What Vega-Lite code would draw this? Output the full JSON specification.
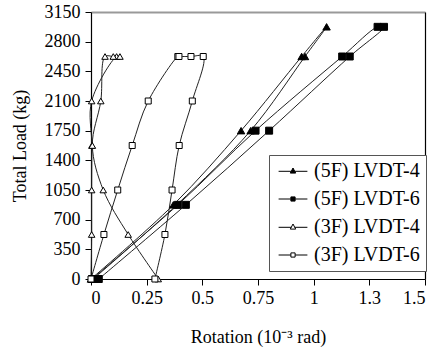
{
  "$schema": "https://vega.github.io/schema/vega-lite/v6.json",
  "width": 334,
  "height": 267,
  "autosize": {"type": "none"},
  "padding": {"left": 91, "top": 12, "right": 12, "bottom": 68},
  "background": "white",
  "config": {
    "font": "Liberation Serif",
    "view": {"stroke": null},
    "axis": {
      "domainColor": "black", "tickColor": "black", "labelColor": "black", "titleColor": "black",
      "labelFont": "Liberation Serif", "titleFont": "Liberation Serif",
      "labelFontSize": 18, "titleFontSize": 18, "titleFontWeight": "normal",
      "grid": false, "tickSize": 6, "domainWidth": 1.2, "tickWidth": 1
    }
  },
  "data": {"values": [
    {"s": "(5F) LVDT-4", "i": 1, "x": 0, "y": 0},
    {"s": "(5F) LVDT-4", "i": 2, "x": 0.37, "y": 875},
    {"s": "(5F) LVDT-4", "i": 3, "x": 0.674, "y": 1750},
    {"s": "(5F) LVDT-4", "i": 4, "x": 0.946, "y": 2625},
    {"s": "(5F) LVDT-4", "i": 5, "x": 1.058, "y": 2975},
    {"s": "(5F) LVDT-4", "i": 6, "x": 0.961, "y": 2625},
    {"s": "(5F) LVDT-4", "i": 7, "x": 0.717, "y": 1750},
    {"s": "(5F) LVDT-4", "i": 8, "x": 0.385, "y": 875},
    {"s": "(5F) LVDT-4", "i": 9, "x": 0.01, "y": 0},
    {"s": "(5F) LVDT-6", "i": 1, "x": 0.005, "y": 0},
    {"s": "(5F) LVDT-6", "i": 2, "x": 0.39, "y": 875},
    {"s": "(5F) LVDT-6", "i": 3, "x": 0.739, "y": 1750},
    {"s": "(5F) LVDT-6", "i": 4, "x": 1.128, "y": 2625},
    {"s": "(5F) LVDT-6", "i": 5, "x": 1.287, "y": 2975},
    {"s": "(5F) LVDT-6", "i": 6, "x": 1.316, "y": 2975},
    {"s": "(5F) LVDT-6", "i": 7, "x": 1.162, "y": 2625},
    {"s": "(5F) LVDT-6", "i": 8, "x": 0.8, "y": 1750},
    {"s": "(5F) LVDT-6", "i": 9, "x": 0.426, "y": 875},
    {"s": "(5F) LVDT-6", "i": 10, "x": 0.035, "y": 0},
    {"s": "(3F) LVDT-4", "i": 1, "x": 0, "y": 0},
    {"s": "(3F) LVDT-4", "i": 2, "x": 0.003, "y": 525},
    {"s": "(3F) LVDT-4", "i": 3, "x": 0.003, "y": 1050},
    {"s": "(3F) LVDT-4", "i": 4, "x": 0.004, "y": 1575},
    {"s": "(3F) LVDT-4", "i": 5, "x": 0.003, "y": 2100},
    {"s": "(3F) LVDT-4", "i": 6, "x": 0.115, "y": 2625},
    {"s": "(3F) LVDT-4", "i": 7, "x": 0.13, "y": 2625},
    {"s": "(3F) LVDT-4", "i": 8, "x": 0.1, "y": 2625},
    {"s": "(3F) LVDT-4", "i": 9, "x": 0.063, "y": 2625},
    {"s": "(3F) LVDT-4", "i": 10, "x": 0.044, "y": 2100},
    {"s": "(3F) LVDT-4", "i": 11, "x": 0.006, "y": 1575},
    {"s": "(3F) LVDT-4", "i": 12, "x": 0.055, "y": 1050},
    {"s": "(3F) LVDT-4", "i": 13, "x": 0.167, "y": 525},
    {"s": "(3F) LVDT-4", "i": 14, "x": 0.302, "y": 0},
    {"s": "(3F) LVDT-6", "i": 1, "x": 0, "y": 0},
    {"s": "(3F) LVDT-6", "i": 2, "x": 0.058, "y": 525},
    {"s": "(3F) LVDT-6", "i": 3, "x": 0.12, "y": 1050},
    {"s": "(3F) LVDT-6", "i": 4, "x": 0.185, "y": 1575},
    {"s": "(3F) LVDT-6", "i": 5, "x": 0.257, "y": 2100},
    {"s": "(3F) LVDT-6", "i": 6, "x": 0.39, "y": 2625},
    {"s": "(3F) LVDT-6", "i": 7, "x": 0.395, "y": 2625},
    {"s": "(3F) LVDT-6", "i": 8, "x": 0.449, "y": 2625},
    {"s": "(3F) LVDT-6", "i": 9, "x": 0.504, "y": 2625},
    {"s": "(3F) LVDT-6", "i": 10, "x": 0.455, "y": 2100},
    {"s": "(3F) LVDT-6", "i": 11, "x": 0.396, "y": 1575},
    {"s": "(3F) LVDT-6", "i": 12, "x": 0.364, "y": 1050},
    {"s": "(3F) LVDT-6", "i": 13, "x": 0.332, "y": 525},
    {"s": "(3F) LVDT-6", "i": 14, "x": 0.287, "y": 0}
  ]},
  "layer": [
    {
      "mark": {"type": "line", "interpolate": "catmull-rom", "stroke": "#222", "strokeWidth": 1},
      "encoding": {
        "x": {"field": "x", "type": "quantitative", "scale": {"domain": [0, 1.5], "nice": false},
          "axis": {"values": [0, 0.25, 0.5, 0.75, 1, 1.25, 1.5], "format": "~g", "title": "Rotation (10⁻³ rad)", "labelPadding": 4, "titlePadding": 21}},
        "y": {"field": "y", "type": "quantitative", "scale": {"domain": [0, 3150], "nice": false},
          "axis": {"values": [0, 350, 700, 1050, 1400, 1750, 2100, 2450, 2800, 3150], "format": "d", "title": "Total Load (kg)", "labelPadding": 5, "titlePadding": 15}},
        "detail": {"field": "s"},
        "order": {"field": "i", "type": "quantitative"}
      }
    },
    {
      "mark": {"type": "point", "filled": true, "stroke": "black", "strokeWidth": 1, "opacity": 1},
      "encoding": {
        "x": {"field": "x", "type": "quantitative", "axis": null},
        "y": {"field": "y", "type": "quantitative", "axis": null},
        "shape": {"field": "s", "type": "nominal", "legend": null,
          "scale": {"domain": ["(5F) LVDT-4", "(5F) LVDT-6", "(3F) LVDT-4", "(3F) LVDT-6"], "range": ["triangle-up", "square", "triangle-up", "square"]}},
        "fill": {"field": "s", "type": "nominal", "legend": null,
          "scale": {"domain": ["(5F) LVDT-4", "(5F) LVDT-6", "(3F) LVDT-4", "(3F) LVDT-6"], "range": ["black", "black", "white", "white"]}},
        "size": {"field": "s", "type": "nominal", "legend": null,
          "scale": {"domain": ["(5F) LVDT-4", "(5F) LVDT-6", "(3F) LVDT-4", "(3F) LVDT-6"], "range": [55, 36, 45, 36]}}
      }
    },
    {
      "mark": {"type": "point", "filled": true, "strokeWidth": 1, "opacity": 0},
      "encoding": {
        "x": {"field": "x", "type": "quantitative",
          "axis": {"orient": "top", "labels": false, "ticks": false, "title": null, "domainColor": "#999", "domainWidth": 2}},
        "y": {"field": "y", "type": "quantitative",
          "axis": {"orient": "right", "labels": false, "ticks": false, "title": null, "domainColor": "black"}},
        "shape": {"field": "s", "type": "nominal",
          "scale": {"domain": ["(5F) LVDT-4", "(5F) LVDT-6", "(3F) LVDT-4", "(3F) LVDT-6"],
            "range": ["M-4.8,0.1H-0.6M0.6,0.1H4.8M0,-1L0.9,0.7L-0.9,0.7Z", "M-4.8,0H-0.7M0.7,0H4.8M-0.7,-0.7H0.7V0.7H-0.7Z", "M-4.8,0.1H-0.6M0.6,0.1H4.8M0,-1L0.9,0.7L-0.9,0.7Z", "M-4.8,0H-0.7M0.7,0H4.8M-0.7,-0.7H0.7V0.7H-0.7Z"]},
          "legend": {"title": null, "orient": "none", "legendX": 178, "legendY": 143,
            "padding": 6, "rowPadding": 8, "symbolSize": 36, "symbolOffset": 8, "labelOffset": 11,
            "symbolOpacity": 1, "symbolStrokeWidth": 1,
            "labelFont": "Liberation Serif", "labelFontSize": 20, "labelColor": "black",
            "strokeColor": "#555", "fillColor": "white",
            "encode": {"symbols": {"update": {"opacity": {"value": 1}, "strokeWidth": {"value": 1}}}}}},
        "fill": {"field": "s", "type": "nominal",
          "scale": {"domain": ["(5F) LVDT-4", "(5F) LVDT-6", "(3F) LVDT-4", "(3F) LVDT-6"], "range": ["black", "black", "white", "white"]},
          "legend": {"title": null, "orient": "none", "legendX": 178, "legendY": 143}},
        "stroke": {"field": "s", "type": "nominal",
          "scale": {"domain": ["(5F) LVDT-4", "(5F) LVDT-6", "(3F) LVDT-4", "(3F) LVDT-6"], "range": ["black", "black", "black", "black"]},
          "legend": {"title": null, "orient": "none", "legendX": 178, "legendY": 143}}
      }
    }
  ],
  "resolve": {
    "scale": {"shape": "independent", "fill": "independent", "size": "independent", "stroke": "independent"},
    "axis": {"x": "independent", "y": "independent"}
  }
}
